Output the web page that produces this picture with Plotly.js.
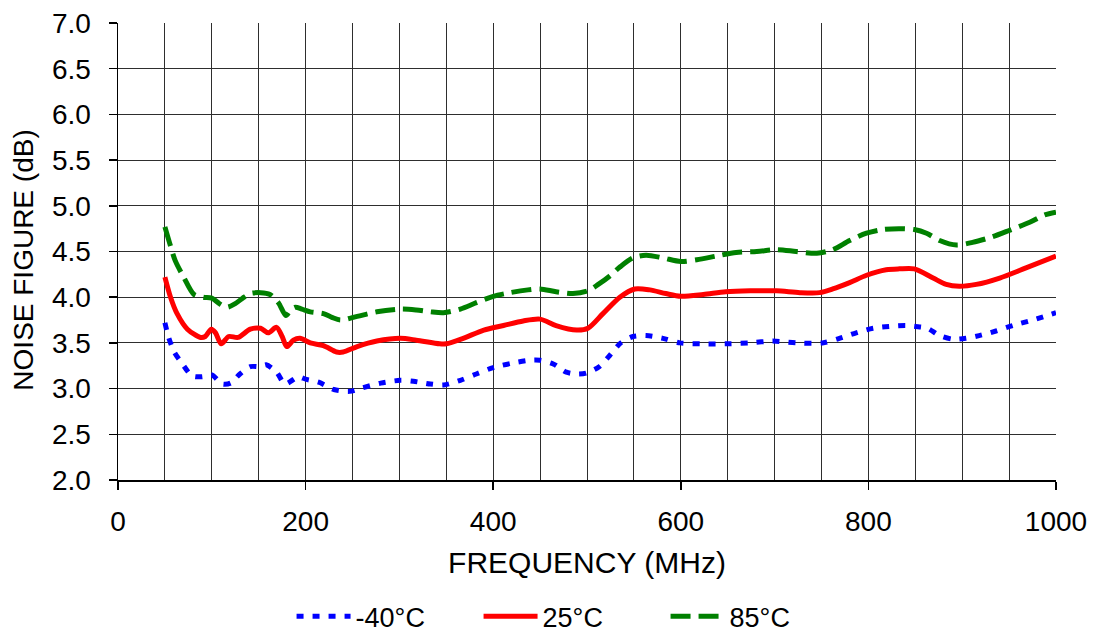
<!DOCTYPE html>
<html>
<head>
<meta charset="utf-8">
<script src="https://cdn.plot.ly/plotly-3.0.1.min.js"></script>
<style>
  html, body { margin: 0; padding: 0; background: #ffffff; }
  #chart { width: 1098px; height: 637px; }
</style>
</head>
<body>
<div id="chart"></div>
<script>
// Noise figure vs. frequency at three temperatures
const freqM40 = [50,54,60,68,79,89.5,100,111,120,130,141,152,158,169,178,187,192,201,214,230,247,261,280,301,315,333,347,365,382,400,421,439,450,464,478,489,499,513,524,536,549,563,581,599,624,649,674,698,723,751,769,787,805,822,840,850,863,876,890,904,918,936,954,975,1000];
const nfM40 = [3.72,3.56,3.40,3.28,3.14,3.13,3.15,3.05,3.06,3.16,3.24,3.24,3.26,3.18,3.05,3.10,3.13,3.10,3.07,2.99,2.97,3.01,3.06,3.09,3.08,3.05,3.04,3.09,3.16,3.23,3.28,3.31,3.31,3.27,3.18,3.16,3.17,3.24,3.36,3.50,3.57,3.58,3.55,3.50,3.49,3.49,3.50,3.52,3.50,3.50,3.55,3.61,3.66,3.68,3.69,3.68,3.66,3.58,3.54,3.55,3.58,3.63,3.69,3.75,3.83];

const freq25 = [50,56,63,74,88,93,99.5,104,110,118,128,141,152,160,169,175,180,187,194,205,219,233,240,255,276,301,318,343,350,368,390,411,432,450,467,489,501,517,535,551,567,584,600,624,648,674,702,727,748,762,780,798,819,833,849,869,883,897,915,940,968,1000];
const nf25 = [4.22,4.00,3.82,3.65,3.56,3.57,3.65,3.61,3.49,3.57,3.56,3.65,3.66,3.61,3.67,3.57,3.46,3.53,3.55,3.50,3.47,3.40,3.40,3.46,3.52,3.55,3.53,3.49,3.49,3.55,3.64,3.69,3.74,3.76,3.69,3.64,3.66,3.82,4.00,4.09,4.08,4.04,4.01,4.03,4.06,4.07,4.07,4.05,4.05,4.09,4.16,4.24,4.30,4.31,4.31,4.21,4.14,4.12,4.14,4.21,4.32,4.45];

const freq85 = [50,56,61,70,81,91,100,108,116,125,133,141,152,162,171,179,184,189,196,205,219,228,237,255,276,301,318,333,347,365,382,400,418,437,450,467,485,501,512,524,535,549,563,581,600,617,638,659,681,702,723,745,762,780,798,815,833,849,862,876,894,911,932,950,972,988,1000];
const nf85 = [4.77,4.56,4.40,4.22,4.03,4.00,3.99,3.93,3.89,3.93,3.99,4.04,4.05,4.03,3.94,3.80,3.86,3.89,3.87,3.84,3.82,3.78,3.75,3.79,3.84,3.87,3.86,3.84,3.83,3.87,3.94,4.01,4.05,4.08,4.09,4.06,4.04,4.07,4.14,4.23,4.33,4.43,4.46,4.43,4.39,4.41,4.45,4.49,4.50,4.52,4.50,4.48,4.52,4.62,4.70,4.74,4.75,4.74,4.70,4.62,4.57,4.60,4.66,4.73,4.82,4.90,4.93];

const seriesNames = ['-40°C', '25°C', '85°C'];
const xTickVals = [0, 200, 400, 600, 800, 1000];
const yTickVals = [2.0, 2.5, 3.0, 3.5, 4.0, 4.5, 5.0, 5.5, 6.0, 6.5, 7.0];
const xTitle = 'FREQUENCY (MHz)';
const yTitle = 'NOISE FIGURE (dB)';

const FONT = 'Liberation Sans, Arial, sans-serif';
const GRID = '#2e2e2e';

const traces = [
  { x: freqM40, y: nfM40, name: seriesNames[0], mode: 'lines',
    line: { color: '#0000ff', width: 5, dash: '7px,9px', shape: 'spline', smoothing: 0.8 } },
  { x: freq25, y: nf25, name: seriesNames[1], mode: 'lines',
    line: { color: '#ff0000', width: 5, shape: 'spline', smoothing: 0.8 } },
  { x: freq85, y: nf85, name: seriesNames[2], mode: 'lines',
    line: { color: '#008000', width: 5, dash: '20px,8px', shape: 'spline', smoothing: 0.8 } }
];

const layout = {
  width: 1098, height: 637,
  paper_bgcolor: '#ffffff', plot_bgcolor: '#ffffff',
  margin: { l: 117.5, r: 41.5, t: 22.5, b: 157 },
  font: { family: FONT, color: '#000000', size: 28 },
  showlegend: true,
  legend: {
    orientation: 'h', xref: 'container', yref: 'container',
    x: 0.521, xanchor: 'center', y: 0.032, yanchor: 'middle',
    font: { family: FONT, size: 27, color: '#000000' },
    entrywidth: 118, entrywidthmode: 'pixels', itemwidth: 54,
    bgcolor: 'rgba(0,0,0,0)'
  },
  xaxis: {
    range: [0, 1000], tickvals: xTickVals, ticktext: xTickVals.map(String),
    showgrid: false, zeroline: false,
    showline: true, linecolor: '#000000', linewidth: 1.5,
    ticks: 'outside', ticklen: 8, tickcolor: '#000000', tickwidth: 1.5,
    tickfont: { family: FONT, size: 28, color: '#000000' },
    ticklabelstandoff: 8,
    minor: { dtick: 50, tick0: 0, showgrid: true, gridcolor: GRID, gridwidth: 1, ticks: '' },
    title: { text: xTitle, font: { family: FONT, size: 30, color: '#000000' }, standoff: 16 }
  },
  yaxis: {
    range: [2.0, 7.0], tickvals: yTickVals, ticktext: yTickVals.map(v => v.toFixed(1)),
    showgrid: true, gridcolor: GRID, gridwidth: 1, zeroline: false,
    showline: true, linecolor: '#000000', linewidth: 1.5,
    ticks: 'outside', ticklen: 8, tickcolor: '#000000', tickwidth: 1.5,
    tickfont: { family: FONT, size: 28, color: '#000000' },
    ticklabelstandoff: 12
  },
  annotations: [{
    text: yTitle, textangle: -90, showarrow: false,
    xref: 'paper', yref: 'paper', x: 0, y: 0.48, xanchor: 'center', yanchor: 'middle',
    xshift: -94,
    font: { family: FONT, size: 28, color: '#000000' }
  }]
};

Plotly.newPlot('chart', traces, layout, { staticPlot: true, displayModeBar: false });
</script>
</body>
</html>
